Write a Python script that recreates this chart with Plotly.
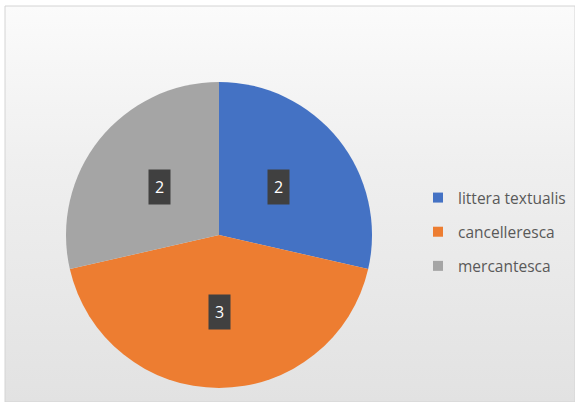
import math
import plotly.graph_objects as go

# Script types and counts
categories = ["littera textualis", "cancelleresca", "mercantesca"]
counts = [2, 3, 2]
colors = ["#4472C4", "#ED7D31", "#A5A5A5"]

W, H = 575, 402
cx_px, cy_px, r_px = 219, 235, 153  # pie centre / radius in pixels (from top-left)

fig = go.Figure()

# Soft grey gradient panel behind the chart
fig.add_trace(go.Scatter(
    x=[5, W, W, 5, 5], y=[0, 0, H - 6, H - 6, 0],
    mode="lines", line=dict(width=0), fill="toself",
    fillgradient=dict(type="vertical",
                      colorscale=[[0, "#e2e2e2"], [0.6, "#efefef"], [1, "#fbfbfb"]]),
    hoverinfo="skip", showlegend=False,
))

# Pie domain derived from centre and radius
dom_x = [(cx_px - r_px) / W, (cx_px + r_px) / W]
dom_y = [(H - cy_px - r_px) / H, (H - cy_px + r_px) / H]

fig.add_trace(go.Pie(
    labels=categories, values=counts, sort=False, direction="clockwise",
    rotation=0, marker=dict(colors=colors, line=dict(width=0)),
    textinfo="none", hoverinfo="label+value", showlegend=False,
    domain=dict(x=dom_x, y=dom_y),
))

# Legend entries as square markers
for name, col in zip(categories, colors):
    fig.add_trace(go.Scatter(
        x=[None], y=[None], mode="markers", name=name, legendgroup=name,
        marker=dict(symbol="square", size=10, color=col),
    ))

# Dark value boxes at each slice's mid-angle
total = sum(counts)
start = 0.0
annotations = []
for v in counts:
    mid = start + v / total * 360 / 2
    start += v / total * 360
    ang = math.radians(mid)
    dx = 0.5 * r_px * math.sin(ang)
    dy = 0.5 * r_px * math.cos(ang)
    annotations.append(dict(
        x=(cx_px + dx) / W, y=(H - cy_px + dy) / H,
        xref="paper", yref="paper", xanchor="center", yanchor="middle",
        text=str(v), showarrow=False,
        font=dict(size=16, color="white", family="Open Sans"),
        bgcolor="#404040", borderpad=6,
    ))

fig.update_layout(
    width=W, height=H,
    margin=dict(l=0, r=0, t=0, b=0),
    paper_bgcolor="white", plot_bgcolor="rgba(0,0,0,0)",
    xaxis=dict(range=[0, W], visible=False, fixedrange=True),
    yaxis=dict(range=[0, H], visible=False, fixedrange=True),
    annotations=annotations,
    legend=dict(
        x=418 / W, y=1 - 181 / H, xanchor="left", yanchor="top",
        bgcolor="rgba(0,0,0,0)", tracegroupgap=11,
        font=dict(size=15.5, color="#595959", family="Open Sans"),
    ),
    shapes=[
        dict(type="rect", xref="paper", yref="paper",
             x0=430 / W, x1=567 / W, y0=1 - 281 / H, y1=1 - 182 / H,
             fillcolor="#ececec", line=dict(width=0), layer="below"),
        dict(type="rect", xref="paper", yref="paper",
             x0=5 / W, x1=1, y0=0, y1=1 - 6 / H,
             fillcolor="rgba(0,0,0,0)", line=dict(color="#d4d4d4", width=1)),
    ],
)

fig.write_html("out.html")
